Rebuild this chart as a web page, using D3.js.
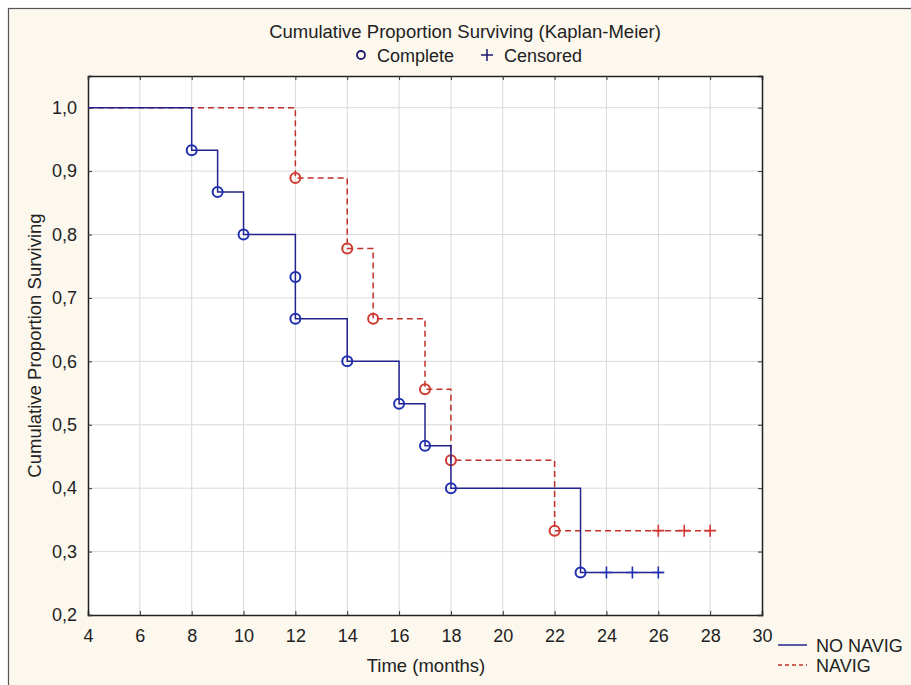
<!DOCTYPE html>
<html>
<head>
<meta charset="utf-8">
<script src="https://cdn.jsdelivr.net/npm/d3@7"></script>
<style>
  body { margin: 0; background: #ffffff; }
  text { font-family: "Liberation Sans", Arial, sans-serif; fill: #222; }
</style>
</head>
<body>
<div id="chart"></div>
<script>
// --- data ---
const xTicks = [4, 6, 8, 10, 12, 14, 16, 18, 20, 22, 24, 26, 28, 30];
const yTicks = [0.2, 0.3, 0.4, 0.5, 0.6, 0.7, 0.8, 0.9, 1.0];

// NO NAVIG: event times and survival after each event
const noNavigTimes = [8, 9, 10, 12, 12, 14, 16, 17, 18, 23];
const noNavigSurv = [0.933, 0.867, 0.8, 0.733, 0.667, 0.6, 0.533, 0.467, 0.4, 0.267];
const noNavigCensored = [24, 25, 26];
const noNavigEnd = 26.2;

// NAVIG
const navigTimes = [12, 14, 15, 17, 18, 22];
const navigSurv = [0.889, 0.778, 0.667, 0.556, 0.444, 0.333];
const navigCensored = [26, 27, 28];
const navigEnd = 28.2;

const W = 911, H = 685;
const margin = { left: 88, right: 149, top: 76, bottom: 70 };
const FS = "18px";

const svg = d3.select("#chart").append("svg")
  .attr("width", W).attr("height", H);

// outer frame + cream background
svg.append("rect")
  .attr("x", 8.5).attr("y", 8.5)
  .attr("width", W).attr("height", H)
  .attr("fill", "#fcf8ee")
  .attr("stroke", "#555").attr("stroke-width", 1.2);

const x = d3.scaleLinear().domain([4, 30]).range([margin.left, W - margin.right]);
const y = d3.scaleLinear().domain([0.2, 1.05]).range([H - margin.bottom, margin.top]);

const plotW = x.range()[1] - x.range()[0];
const plotH = y.range()[0] - y.range()[1];

svg.append("rect")
  .attr("x", x(4)).attr("y", y(1.05))
  .attr("width", plotW).attr("height", plotH)
  .attr("fill", "#fff");

// grid
svg.append("g").selectAll("line").data(xTicks.slice(1, -1)).join("line")
  .attr("x1", d => x(d)).attr("x2", d => x(d))
  .attr("y1", y(1.05)).attr("y2", y(0.2))
  .attr("stroke", "#d9d9d9").attr("stroke-width", 1);
svg.append("g").selectAll("line").data(yTicks.slice(1)).join("line")
  .attr("x1", x(4)).attr("x2", x(30))
  .attr("y1", d => y(d)).attr("y2", d => y(d))
  .attr("stroke", "#d9d9d9").attr("stroke-width", 1);

const comma = v => d3.format(".1f")(v).replace(".", ",");

// axes with inward ticks
const axB = svg.append("g").attr("transform", `translate(0,${y(0.2)})`)
  .call(d3.axisBottom(x).tickValues(xTicks).tickSize(-4).tickPadding(14));
const axL = svg.append("g").attr("transform", `translate(${x(4)},0)`)
  .call(d3.axisLeft(y).tickValues(yTicks).tickFormat(comma).tickSize(-4).tickPadding(11));
const axT = svg.append("g").attr("transform", `translate(0,${y(1.05)})`)
  .call(d3.axisTop(x).tickValues(xTicks).tickSize(-4).tickFormat(""));
const axR = svg.append("g").attr("transform", `translate(${x(30)},0)`)
  .call(d3.axisRight(y).tickValues(yTicks).tickSize(-4).tickFormat(""));

[axB, axL, axT, axR].forEach(a => {
  a.select(".domain").attr("stroke", "#222").attr("stroke-width", 1.5);
  a.selectAll(".tick line").attr("stroke", "#333");
  a.selectAll(".tick text").attr("fill", "#333")
    .style("font-size", FS).style("font-family", "Liberation Sans, Arial, sans-serif");
});

// step curves
function stepPoints(times, surv, end) {
  const pts = [[4, 1.0]];
  let s = 1.0;
  times.forEach((t, i) => { pts.push([t, s]); s = surv[i]; pts.push([t, s]); });
  pts.push([end, s]);
  return pts;
}
const line = d3.line().x(d => x(d[0])).y(d => y(d[1]));

const series = [
  { name: "NO NAVIG", times: noNavigTimes, surv: noNavigSurv, cens: noNavigCensored, end: noNavigEnd,
    color: "#23238f", mark: "#1f2fb0", dash: null },
  { name: "NAVIG", times: navigTimes, surv: navigSurv, cens: navigCensored, end: navigEnd,
    color: "#c0302a", mark: "#d03a30", dash: "6,4" }
];

// draw red first so blue sits on top, as in the reference
series.slice().reverse().forEach(s => {
  svg.append("path")
    .attr("d", line(stepPoints(s.times, s.surv, s.end)))
    .attr("fill", "none")
    .attr("stroke", s.color)
    .attr("stroke-width", 1.5)
    .attr("stroke-dasharray", s.dash);

  const last = s.surv[s.surv.length - 1];
  svg.append("g").selectAll("path").data(s.cens).join("path")
    .attr("d", d => `M${x(d) - 6},${y(last)}H${x(d) + 6}M${x(d)},${y(last) - 6}V${y(last) + 6}`)
    .attr("stroke", s.mark).attr("stroke-width", 1.6);

  svg.append("g").selectAll("circle").data(s.times).join("circle")
    .attr("cx", d => x(d))
    .attr("cy", (d, i) => y(s.surv[i]))
    .attr("r", 5)
    .attr("fill", "none")
    .attr("stroke", s.mark)
    .attr("stroke-width", 2);
});

// title and symbol legend
svg.append("text")
  .attr("x", 465).attr("y", 37.5)
  .attr("text-anchor", "middle")
  .style("font-size", "18.5px")
  .text("Cumulative Proportion Surviving (Kaplan-Meier)");

svg.append("circle").attr("cx", 361).attr("cy", 55).attr("r", 4)
  .attr("fill", "none").attr("stroke", "#1a1a6e").attr("stroke-width", 1.8);
svg.append("text").attr("x", 377).attr("y", 61.5).style("font-size", FS).text("Complete");
svg.append("path").attr("d", "M481,55H493M487,49V61")
  .attr("stroke", "#1a1a6e").attr("stroke-width", 1.5);
svg.append("text").attr("x", 504).attr("y", 61.5).style("font-size", FS).text("Censored");

// axis titles
svg.append("text")
  .attr("transform", `translate(41,${(y(1.05) + y(0.2)) / 2}) rotate(-90)`)
  .attr("text-anchor", "middle")
  .style("font-size", "18.5px")
  .text("Cumulative Proportion Surviving");

svg.append("text")
  .attr("x", (x(4) + x(30)) / 2 + 1).attr("y", 672)
  .attr("text-anchor", "middle")
  .style("font-size", "18.5px")
  .text("Time (months)");

// series legend
const leg = svg.append("g").attr("transform", "translate(778,645)");
series.forEach((s, i) => {
  leg.append("line")
    .attr("x1", 0).attr("x2", 29)
    .attr("y1", i * 20).attr("y2", i * 20)
    .attr("stroke", s.color).attr("stroke-width", 1.5)
    .attr("stroke-dasharray", s.dash ? "4,3" : null);
  leg.append("text")
    .attr("x", 38).attr("y", i * 20 + 7)
    .style("font-size", FS)
    .text(s.name);
});
</script>
</body>
</html>
